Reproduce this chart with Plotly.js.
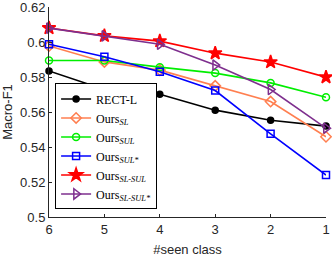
<!DOCTYPE html>
<html><head><meta charset="utf-8">
<script src="https://cdn.plot.ly/plotly-3.0.1.min.js"></script>
<style>html,body{margin:0;padding:0;background:#fff}</style>
</head><body><div id="chart" style="width:332px;height:257px"></div>
<script>
const seenClass = [6, 5, 4, 3, 2, 1];
const rectL   = [0.5835, 0.5729, 0.5702, 0.5611, 0.5553, 0.5520];
const oursSL  = [0.5978, 0.5887, 0.5840, 0.5750, 0.5660, 0.5459];
const oursSUL = [0.5895, 0.5895, 0.5857, 0.5823, 0.5767, 0.5685];
const oursSULs = [0.5988, 0.5916, 0.5831, 0.5723, 0.5476, 0.5240];
const oursSLSUL = [0.6081, 0.6036, 0.6006, 0.5937, 0.5886, 0.5800];
const oursSLSULs = [0.6080, 0.6036, 0.5988, 0.5869, 0.5729, 0.5508];
const yTicks = [0.5, 0.52, 0.54, 0.56, 0.58, 0.6, 0.62];
const yTickText = ['0.5', '0.52', '0.54', '0.56', '0.58', '0.6', '0.62'];
const names = ['RECT-L', 'Ours<sub><i>SL</i></sub>', 'Ours<sub><i>SUL</i></sub>', 'Ours<sub><i>SUL*</i></sub>',
  'Ours<sub><i>SL-SUL</i></sub>', 'Ours<sub><i>SL-SUL*</i></sub>'];
const series = [rectL, oursSL, oursSUL, oursSULs, oursSLSUL, oursSLSULs];
const colors = ['#000000', '#FF7F50', '#00EE00', '#0000FF', '#FF0000', '#7E2F8E'];
const symbols = ['circle', 'diamond-open', 'circle-open', 'square-open', 'star', 'triangle-right-open'];
const sizes = [6, 8, 7, 7, 10, 9];
const traces = series.map((y, i) => ({
  x: seenClass, y: y, name: names[i], type: 'scatter', mode: 'lines+markers',
  line: {color: colors[i], width: 1.6},
  marker: {symbol: symbols[i], size: sizes[i], color: colors[i], line: {color: colors[i], width: 1.5}},
  cliponaxis: false
}));
const layout = {
  width: 332, height: 257,
  margin: {l: 49, r: 6, t: 7, b: 40},
  paper_bgcolor: '#fff', plot_bgcolor: '#fff',
  font: {family: 'Liberation Sans, Arial, sans-serif', size: 13, color: '#262626'},
  xaxis: {
    range: [6, 1], tickvals: seenClass, ticks: 'inside', ticklen: 3, tickcolor: '#262626',
    showline: true, linecolor: '#262626', linewidth: 1, showgrid: false, zeroline: false, mirror: false,
    title: {text: '#seen class', font: {size: 13}, standoff: 12}, tickfont: {size: 13},
    ticklabeloverflow: 'allow'
  },
  yaxis: {
    range: [0.5, 0.6201], tickvals: yTicks, ticktext: yTickText,
    ticks: 'inside', ticklen: 3, tickcolor: '#262626',
    showline: true, linecolor: '#262626', linewidth: 1, showgrid: false, zeroline: false,
    title: {text: 'Macro-F1', font: {size: 13}, standoff: 4}, tickfont: {size: 13},
    ticklabeloverflow: 'allow'
  },
  showlegend: true,
  legend: {
    x: 0.022, y: 0.036, xanchor: 'left', yanchor: 'bottom',
    bgcolor: '#fff', bordercolor: '#000', borderwidth: 1,
    font: {family: 'Liberation Serif, Times New Roman, serif', size: 12, color: '#000'},
    tracegroupgap: 0, itemwidth: 30
  }
};
Plotly.newPlot('chart', traces, layout, {displayModeBar: false, staticPlot: true});
</script></body></html>
